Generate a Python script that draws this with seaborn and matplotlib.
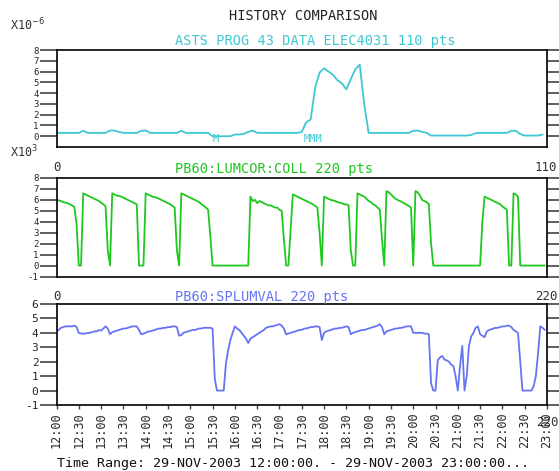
import numpy as np
import pandas as pd
import seaborn as sns
import matplotlib
matplotlib.use("Agg")
import matplotlib.pyplot as plt

# ---------------- data ----------------
title = "HISTORY COMPARISON"
label1 = "ASTS PROG 43 DATA ELEC4031 110 pts"
label2 = "PB60:LUMCOR:COLL 220 pts"
label3 = "PB60:SPLUMVAL 220 pts"
time_range = "Time Range: 29-NOV-2003 12:00:00. - 29-NOV-2003 23:00:00..."

elec_values = [
    0.31, 0.31, 0.31, 0.31, 0.31, 0.31, 0.5, 0.31, 0.31, 0.31,
    0.31, 0.31, 0.53, 0.53, 0.4, 0.31, 0.31, 0.31, 0.31, 0.5,
    0.53, 0.31, 0.31, 0.31, 0.31, 0.31, 0.31, 0.31, 0.5, 0.31,
    0.31, 0.31, 0.31, 0.31, 0.31, 0.0, 0.0, 0.0, 0.0, 0.0,
    0.16, 0.16, 0.22, 0.4, 0.53, 0.31, 0.31, 0.31, 0.31, 0.31,
    0.31, 0.31, 0.31, 0.31, 0.31, 0.4, 1.3, 1.55, 4.5, 5.9,
    6.3, 6.0, 5.7, 5.2, 4.9, 4.35, 5.3, 6.2, 6.64, 3.0,
    0.31, 0.31, 0.31, 0.31, 0.31, 0.31, 0.31, 0.31, 0.31, 0.31,
    0.5, 0.53, 0.4, 0.31, 0.06, 0.06, 0.06, 0.06, 0.06, 0.06,
    0.06, 0.06, 0.06, 0.12, 0.28, 0.31, 0.31, 0.31, 0.31, 0.31,
    0.31, 0.31, 0.5, 0.5, 0.2, 0.06, 0.06, 0.06, 0.06, 0.16,
]
elec_missing_idx = [35.8, 57.5]
elec_missing_txt = ["M", "MMM"]

lumcor_values = [
    6.0, 5.95, 5.9, 5.8, 5.75, 5.7, 5.6, 5.5, 5.35, 3.8,
    0.0, 0.0, 6.6, 6.5, 6.4, 6.3, 6.2, 6.1, 6.0, 5.9,
    5.75, 5.6, 5.4, 1.4, 0.0, 6.6, 6.5, 6.4, 6.35, 6.3,
    6.2, 6.1, 6.0, 5.9, 5.8, 5.7, 5.6, 0.0, 0.0, 0.0,
    6.6, 6.5, 6.4, 6.3, 6.25, 6.2, 6.1, 6.0, 5.9, 5.8,
    5.7, 5.6, 5.45, 5.3, 1.4, 0.0, 6.6, 6.5, 6.4, 6.3,
    6.2, 6.1, 6.0, 5.9, 5.8, 5.6, 5.45, 5.3, 5.1, 2.7,
    0.0, 0.0, 0.0, 0.0, 0.0, 0.0, 0.0, 0.0, 0.0, 0.0,
    0.0, 0.0, 0.0, 0.0, 0.0, 0.0, 0.0, 6.3, 5.9, 6.0,
    5.7, 5.9, 5.8, 5.7, 5.6, 5.5, 5.5, 5.4, 5.3, 5.3,
    5.1, 5.0, 2.4, 0.0, 0.0, 3.3, 6.5, 6.4, 6.3, 6.2,
    6.1, 6.0, 5.9, 5.8, 5.7, 5.6, 5.45, 5.3, 3.0, 0.0,
    6.3, 6.2, 6.1, 6.0, 5.95, 5.9, 5.8, 5.75, 5.7, 5.6,
    5.6, 5.5, 1.4, 0.0, 0.0, 6.6, 6.5, 6.4, 6.3, 6.1,
    5.9, 5.8, 5.6, 5.5, 5.3, 5.1, 2.4, 0.0, 6.8, 6.7,
    6.5, 6.3, 6.1, 6.0, 5.9, 5.8, 5.7, 5.55, 5.45, 5.3,
    0.0, 6.8, 6.7, 6.4, 6.0, 5.9, 5.8, 5.6, 2.0, 0.0,
    0.0, 0.0, 0.0, 0.0, 0.0, 0.0, 0.0, 0.0, 0.0, 0.0,
    0.0, 0.0, 0.0, 0.0, 0.0, 0.0, 0.0, 0.0, 0.0, 0.0,
    0.0, 4.0, 6.3, 6.2, 6.1, 6.0, 5.9, 5.8, 5.7, 5.6,
    5.4, 5.25, 5.1, 0.0, 0.0, 6.6, 6.5, 6.3, 0.0, 0.0,
    0.0, 0.0, 0.0, 0.0, 0.0, 0.0, 0.0, 0.0, 0.0, 0.0,
]

splumval_values = [
    4.1, 4.2, 4.35, 4.4, 4.45, 4.45, 4.45, 4.45, 4.5, 4.4,
    4.0, 3.95, 3.95, 3.95, 4.0, 4.0, 4.05, 4.1, 4.1, 4.2,
    4.15, 4.3, 4.45, 4.3, 3.9, 4.05, 4.1, 4.15, 4.2, 4.25,
    4.3, 4.3, 4.35, 4.4, 4.45, 4.45, 4.45, 4.2, 3.9, 3.95,
    4.0, 4.1, 4.1, 4.15, 4.2, 4.25, 4.3, 4.3, 4.35, 4.35,
    4.4, 4.4, 4.45, 4.45, 4.4, 3.8, 3.85, 4.0, 4.05, 4.1,
    4.15, 4.2, 4.2, 4.25, 4.3, 4.3, 4.35, 4.35, 4.35, 4.35,
    4.3, 0.8, 0.0, 0.0, 0.0, 0.0, 1.9, 2.8, 3.5, 4.0,
    4.45, 4.3, 4.2, 4.0, 3.8, 3.6, 3.3, 3.6, 3.7, 3.8,
    3.9, 4.0, 4.1, 4.2, 4.35, 4.4, 4.45, 4.45, 4.5, 4.55,
    4.6, 4.5, 4.3, 3.9, 3.95, 4.0, 4.05, 4.1, 4.15, 4.2,
    4.2, 4.3, 4.3, 4.35, 4.4, 4.4, 4.45, 4.45, 4.4, 3.5,
    4.0, 4.1, 4.15, 4.2, 4.25, 4.3, 4.3, 4.35, 4.35, 4.4,
    4.45, 4.4, 3.9, 4.0, 4.05, 4.1, 4.15, 4.2, 4.2, 4.25,
    4.3, 4.35, 4.4, 4.45, 4.5, 4.6, 4.4, 3.9, 4.1, 4.15,
    4.2, 4.25, 4.3, 4.3, 4.35, 4.35, 4.4, 4.45, 4.45, 4.45,
    4.0, 4.0, 4.0, 4.0, 4.0, 3.95, 3.95, 3.9, 0.5, 0.0,
    0.0, 2.1, 2.3, 2.4, 2.15, 2.1, 2.0, 1.8, 1.7, 1.0,
    0.0, 1.7, 3.1, 0.0, 1.0, 3.1, 3.75, 4.0, 4.35, 4.45,
    3.9, 3.8, 3.7, 4.1, 4.2, 4.25, 4.3, 4.35, 4.35, 4.4,
    4.45, 4.45, 4.5, 4.5, 4.4, 4.2, 4.1, 4.0, 2.0, 0.0,
    0.0, 0.0, 0.0, 0.0, 0.3, 1.0, 2.6, 4.45, 4.35, 4.2,
]

time_labels = ["12:00", "12:30", "13:00", "13:30", "14:00", "14:30",
               "15:00", "15:30", "16:00", "16:30", "17:00", "17:30",
               "18:00", "18:30", "19:00", "19:30", "20:00", "20:30",
               "21:00", "21:30", "22:00", "22:30", "23:00"]

yticks1 = [0, 1, 2, 3, 4, 5, 6, 7, 8]
yticks2 = [-1, 0, 1, 2, 3, 4, 5, 6, 7, 8]
yticks3 = [-1, 0, 1, 2, 3, 4, 5, 6]

# ---------------- style ----------------
sns.set_style("white")
plt.rcParams['font.family'] = ['DejaVu Sans Mono', 'DejaVu Sans']

C1 = "#3ec8d2"
C2 = "#1ec81e"
C3 = "#6674f4"
TICKC = "#444444"

W, H = 559, 471
fig = plt.figure(figsize=(W / 100, H / 100), dpi=100)


def box(l, t, r, b):
    return [l / W, 1 - b / H, (r - l) / W, (b - t) / H]


def fx(px):
    return px / W


def fy(py):
    return 1 - py / H


ax1 = fig.add_axes(box(56.5, 50, 547, 147))
ax2 = fig.add_axes(box(56.5, 178, 547, 276.5))
ax3 = fig.add_axes(box(56.5, 304, 547, 405))

df1 = pd.DataFrame({"i": np.arange(len(elec_values)), "v": elec_values})
df2 = pd.DataFrame({"i": np.arange(len(lumcor_values)), "v": lumcor_values})
df3 = pd.DataFrame({"i": np.arange(len(splumval_values)), "v": splumval_values})

sns.lineplot(data=df1, x="i", y="v", ax=ax1, color=C1, linewidth=1.3)
sns.lineplot(data=df2, x="i", y="v", ax=ax2, color=C2, linewidth=1.3)
sns.lineplot(data=df3, x="i", y="v", ax=ax3, color=C3, linewidth=1.3)

ax1.set_xlim(0, 110)
ax2.set_xlim(0, 220)
ax3.set_xlim(0, 220)
ax1.set_ylim(-1, 8)
ax2.set_ylim(-1, 8)
ax3.set_ylim(-1, 6)

for ax in (ax1, ax2, ax3):
    ax.set_xlabel("")
    ax.set_ylabel("")
    for s in ax.spines.values():
        s.set_color("black")
        s.set_linewidth(1.2)
    ax.tick_params(axis="y", which="major", direction="out", length=12,
                   width=1.2, color=TICKC, left=True, right=True,
                   labelleft=True, labelright=False, pad=1)

ax1.set_yticks(yticks1)
ax1.set_yticklabels([str(t) for t in yticks1], fontsize=6.5)
ax2.set_yticks(yticks2)
ax2.set_yticklabels([str(t) for t in yticks2], fontsize=6.5)
ax3.set_yticks(yticks3)
ax3.set_yticklabels([str(t) for t in yticks3], fontsize=8)

for ax in (ax1, ax2):
    ax.set_xticks([])

ax3.set_xticks(np.arange(0, 221, 10))
ax3.set_xticklabels(time_labels, rotation=90, fontsize=8.6)
ax3.tick_params(axis="x", direction="out", length=3, width=1, color=TICKC,
                bottom=True, pad=2)

# missing markers in panel 1
for xi, t in zip(elec_missing_idx, elec_missing_txt):
    ax1.text(xi, -0.25, t, color=C1, fontsize=7.5, ha="center", va="center")

# texts
fig.text(fx(303), fy(16), title, ha="center", va="center", fontsize=9.8,
         color="#222222")
fig.text(fx(175), fy(41), label1, ha="left", va="center", fontsize=9.8, color=C1)
fig.text(fx(175), fy(169), label2, ha="left", va="center", fontsize=9.8, color=C2)
fig.text(fx(175), fy(297), label3, ha="left", va="center", fontsize=9.8, color=C3)

fig.text(fx(10), fy(25), r"X10$^{-6}$", ha="left", va="center", fontsize=8.5,
         color="#333333")
fig.text(fx(10), fy(152), r"X10$^{3}$", ha="left", va="center", fontsize=8.5,
         color="#333333")

fig.text(fx(57), fy(168), "0", ha="center", va="center", fontsize=9, color="#333333")
fig.text(fx(546), fy(168), "110", ha="center", va="center", fontsize=9, color="#333333")
fig.text(fx(57), fy(296), "0", ha="center", va="center", fontsize=9, color="#333333")
fig.text(fx(546), fy(296), "220", ha="center", va="center", fontsize=9, color="#333333")
fig.text(fx(547), fy(422), "220", ha="center", va="center", fontsize=9, color="#333333")

fig.text(fx(57), fy(463), time_range, ha="left", va="center", fontsize=9.6,
         color="#111111")

fig.savefig("out.png", dpi=100, facecolor="white")
